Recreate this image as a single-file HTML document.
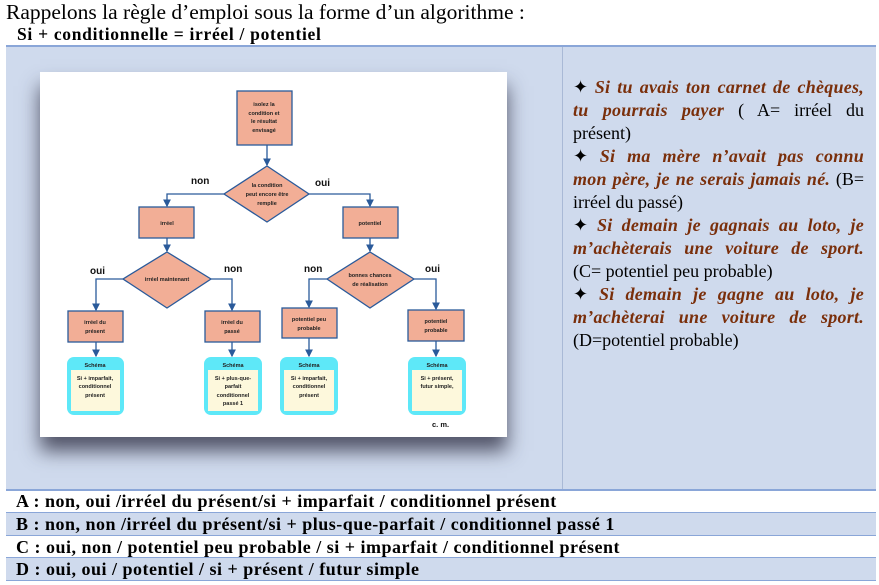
<!DOCTYPE html>
<html><head><meta charset="utf-8"><style>
body{margin:0;width:879px;height:585px;background:#fff;position:relative;overflow:hidden;font-family:"Liberation Serif",serif;}
.t1{position:absolute;left:6px;top:0px;font-size:21.5px;}
.t2{position:absolute;left:17px;top:24px;font-size:17.5px;font-weight:bold;letter-spacing:.7px}
.cell{position:absolute;background:#cfdaed;}
.hl{position:absolute;left:6px;width:870px;height:2px;background:#8aa6d8;}
.img{position:absolute;left:40px;top:72px;width:467px;height:365px;background:#fff;box-shadow:0 14px 18px rgba(40,40,60,.75);}
.rt{position:absolute;left:573px;top:76px;width:291px;font-size:18px;line-height:23px;}
.rt div{white-space:nowrap;height:23px}
.rt .j{text-align:justify;text-align-last:justify}
.rt i{color:#7a2f0b;font-weight:bold;letter-spacing:.25px}
.row{position:absolute;left:6px;width:870px;height:22px;font-size:18px;font-weight:bold;line-height:22px;padding-left:10px;box-sizing:border-box;letter-spacing:.5px;white-space:nowrap}
</style></head><body>
<div class="t1">Rappelons la règle d’emploi sous la forme d’un algorithme :</div>
<div class="t2">Si + conditionnelle = irréel / potentiel</div>
<div class="cell" style="left:6px;top:47px;width:870px;height:442px"></div>
<div style="position:absolute;left:562px;top:47px;width:1px;height:442px;background:#a9b9d6"></div>
<div class="hl" style="top:45px"></div>
<div class="img">
<svg width="467" height="365" viewBox="40 72 467 365" font-family="Liberation Sans, sans-serif" font-weight="bold">
<defs><marker id="a" markerWidth="6" markerHeight="6" refX="5" refY="3" orient="auto"><path d="M0,0L6,3L0,6z" fill="#2a5a9a"/></marker></defs>
<g fill="#f2ae96" stroke="#2a5a9a" stroke-width="1.3">
<rect x="237" y="91" width="55" height="54"/>
<polygon points="267,166 309,194 267,222 224,194"/>
<rect x="139" y="207" width="55" height="31"/>
<rect x="343" y="207" width="55" height="31"/>
<polygon points="167,252 211,279 167,308 123,279"/>
<polygon points="370,252 414,279 370,308 327,279"/>
<rect x="68" y="311" width="55" height="31"/>
<rect x="205" y="311" width="55" height="31"/>
<rect x="282" y="308" width="55" height="30"/>
<rect x="408" y="310" width="56" height="31"/>
</g>
<g fill="none" stroke="#2a5a9a" stroke-width="1.3" marker-end="url(#a)">
<path d="M267,145V165"/>
<path d="M224,194H167V206"/><path d="M309,194H370V206"/>
<path d="M167,238V251"/><path d="M370,238V251"/>
<path d="M123,279H96V310"/><path d="M211,279H232V310"/>
<path d="M327,279H309V307"/><path d="M414,279H436V309"/>
<path d="M96,342V356"/><path d="M232,342V356"/><path d="M309,338V356"/><path d="M436,341V356"/>
</g>
<g>
<rect x="67" y="357" width="57" height="58" rx="7" fill="#5ee8f8"/>
<rect x="204" y="357" width="58" height="58" rx="7" fill="#5ee8f8"/>
<rect x="280" y="357" width="58" height="58" rx="7" fill="#5ee8f8"/>
<rect x="408" y="357" width="58" height="58" rx="7" fill="#5ee8f8"/>
<rect x="71" y="370" width="49" height="41" fill="#fdf8dc"/>
<rect x="208" y="370" width="50" height="41" fill="#fdf8dc"/>
<rect x="284" y="370" width="50" height="41" fill="#fdf8dc"/>
<rect x="412" y="370" width="50" height="41" fill="#fdf8dc"/>
</g>
<g font-size="5.5" text-anchor="middle" fill="#222">
<text x="264" y="106">isolez la</text><text x="264" y="115">condition et</text><text x="264" y="123">le résultat</text><text x="264" y="132">envisagé</text>
<text x="267" y="187">la condition</text><text x="267" y="196">peut encore  être</text><text x="267" y="205">remplie</text>
<text x="167" y="225">irréel</text><text x="370" y="225">potentiel</text>
<text x="167" y="281">irréel maintenant</text>
<text x="370" y="277">bonnes chances</text><text x="370" y="286">de réalisation</text>
<text x="95" y="324">irréel du</text><text x="95" y="333">présent</text>
<text x="232" y="324">irréel du</text><text x="232" y="333">passé</text>
<text x="309" y="321">potentiel peu</text><text x="309" y="330">probable</text>
<text x="436" y="323">potentiel</text><text x="436" y="332">probable</text>
<text x="95" y="367">Schéma</text><text x="233" y="367">Schéma</text><text x="309" y="367">Schéma</text><text x="437" y="367">Schéma</text>
<text x="95" y="380">Si + imparfait,</text><text x="95" y="388">conditionnel</text><text x="95" y="397">présent</text>
<text x="233" y="380">Si + plus-que-</text><text x="233" y="388">parfait</text><text x="233" y="397">conditionnel</text><text x="233" y="405">passé 1</text>
<text x="309" y="380">Si + imparfait,</text><text x="309" y="388">conditionnel</text><text x="309" y="397">présent</text>
<text x="437" y="380">Si + présent,</text><text x="437" y="388">futur simple,</text>
</g>
<g font-size="10" fill="#111">
<text x="191" y="184">non</text><text x="315" y="186">oui</text>
<text x="90" y="274">oui</text><text x="224" y="272">non</text>
<text x="304" y="272">non</text><text x="425" y="272">oui</text>
<text x="432" y="427" font-size="7.5">c. m.</text>
</g>
</svg></div>
<div class="rt">
<div class="j">✦ <i>Si tu avais ton carnet de chèques,</i></div>
<div class="j"><i>tu pourrais payer</i> ( A= irréel du</div>
<div>présent)</div>
<div class="j">✦ <i>Si ma mère n’avait pas connu</i></div>
<div class="j"><i>mon père, je ne serais jamais né.</i> (B=</div>
<div>irréel du passé)</div>
<div class="j">✦ <i>Si demain je gagnais au loto, je</i></div>
<div class="j"><i>m’achèterais une voiture de sport.</i></div>
<div>(C= potentiel peu probable)</div>
<div class="j">✦ <i>Si demain je gagne au loto, je</i></div>
<div class="j"><i>m’achèterai une voiture de sport.</i></div>
<div>(D=potentiel probable)</div>
</div>
<div class="hl" style="top:489px"></div>
<div class="row" style="top:490px">A : non, oui /irréel du présent/si + imparfait / conditionnel présent</div>
<div class="hl" style="top:512px;height:1px"></div>
<div class="row" style="top:513px;background:#cfdaed">B : non, non /irréel du présent/si + plus-que-parfait / conditionnel passé 1</div>
<div class="hl" style="top:535px;height:1px"></div>
<div class="row" style="top:536px">C : oui, non / potentiel peu probable / si + imparfait / conditionnel présent</div>
<div class="hl" style="top:557px;height:1px"></div>
<div class="row" style="top:558px;background:#cfdaed">D : oui, oui / potentiel / si + présent / futur simple</div>
<div class="hl" style="top:580px;height:1px"></div>
</body></html>
